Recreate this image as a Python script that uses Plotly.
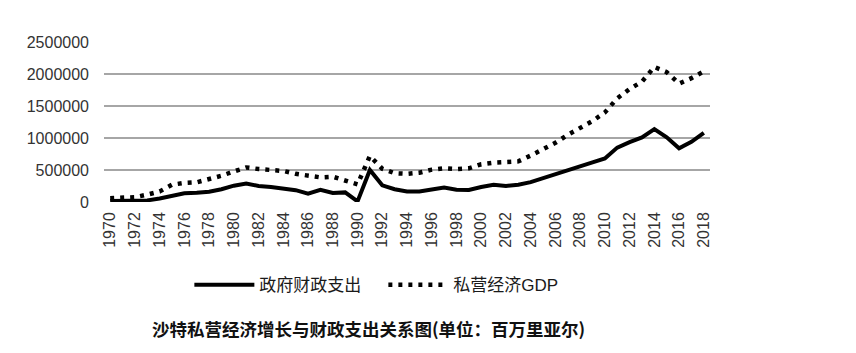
import plotly.graph_objects as go

years = list(range(1970, 2019))

gov_spending = [
    15000, 15000, 18000, 25000, 55000, 100000, 135000, 145000, 160000, 200000,
    255000, 290000, 250000, 235000, 215000, 185000, 130000, 190000, 140000, 150000,
    10000, 500000, 260000, 200000, 165000, 165000, 195000, 225000, 190000, 188000,
    235000, 270000, 250000, 270000, 310000, 375000, 430000, 495000, 560000, 620000,
    680000, 850000, 935000, 1010000, 1140000, 1010000, 840000, 940000, 1080000,
]

private_gdp = [
    60000, 65000, 75000, 115000, 165000, 270000, 298000, 308000, 355000, 410000,
    478000, 540000, 515000, 502000, 485000, 440000, 405000, 385000, 395000, 330000,
    275000, 720000, 520000, 450000, 440000, 458000, 505000, 527000, 515000, 527000,
    590000, 615000, 620000, 635000, 725000, 820000, 925000, 1050000, 1150000, 1265000,
    1400000, 1620000, 1765000, 1880000, 2110000, 2030000, 1850000, 1935000, 2040000,
]

y_ticks = [0, 500000, 1000000, 1500000, 2000000, 2500000]
x_ticks = list(range(1970, 2019, 2))

series_names = ["政府财政支出", "私营经济GDP"]
caption = "沙特私营经济增长与财政支出关系图(单位：百万里亚尔)"

fig = go.Figure()
fig.add_trace(go.Scatter(
    x=years, y=gov_spending, mode="lines", name=series_names[0],
    line=dict(color="#000000", width=4),
))
fig.add_trace(go.Scatter(
    x=years, y=private_gdp, mode="lines", name=series_names[1],
    line=dict(color="#000000", width=4.5, dash="4px,6px"),
))

fig.update_layout(
    width=856, height=353,
    margin=dict(l=104, r=146, t=42, b=151),
    paper_bgcolor="white", plot_bgcolor="white",
    font=dict(family="Liberation Sans, Arial, Noto Sans CJK SC", color="#333333", size=16),
    showlegend=True,
    legend=dict(
        orientation="h", x=0.461, xanchor="center", y=-0.52, yanchor="middle",
        font=dict(family="Liberation Sans, Noto Sans CJK SC", size=17, color="#1a1a1a"),
        itemwidth=60, entrywidth=119, entrywidthmode="pixels",
        tracegroupgap=0, bgcolor="rgba(0,0,0,0)",
    ),
    xaxis=dict(
        range=[1969.5, 2018.5], tickmode="array", tickvals=x_ticks,
        ticktext=[str(v) for v in x_ticks], tickangle=-90,
        showgrid=False, zeroline=False, showline=False,
        ticks="", ticklabelstandoff=6,
        tickfont=dict(size=16, color="#333333"),
    ),
    yaxis=dict(
        range=[0, 2500000], tickmode="array", tickvals=y_ticks,
        ticktext=[str(v) for v in y_ticks],
        showgrid=True, gridcolor="#a6a6a6", gridwidth=2,
        zeroline=False, showline=False, ticks="", ticklabelstandoff=14,
        tickfont=dict(size=16, color="#333333"),
    ),
    annotations=[dict(
        text="<b>" + caption + "</b>", xref="paper", yref="paper",
        x=0.436, y=-0.79, xanchor="center", yanchor="middle", showarrow=False,
        font=dict(family="Noto Sans CJK SC", size=17.5, color="#111111"),
    )],
)

fig.write_html("out.html")
